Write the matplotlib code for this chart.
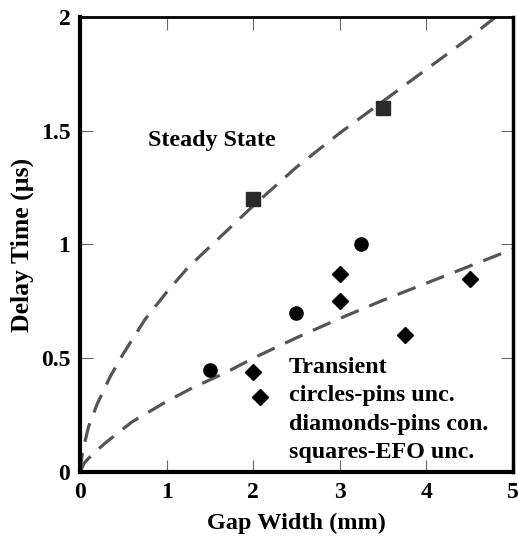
import matplotlib.pyplot as plt
import numpy as np

plt.rcParams['font.family'] = ['Liberation Serif', 'DejaVu Serif']
plt.rcParams['font.weight'] = 'bold'

# data
sq_x = [2.0, 3.5]
sq_y = [1.2, 1.6]

circ_x = [1.5, 2.5, 3.25]
circ_y = [0.45, 0.70, 1.0]

diam_x = [2.0, 2.08, 3.0, 3.0, 3.75, 4.5]
diam_y = [0.44, 0.33, 0.87, 0.75, 0.60, 0.85]

# dashed fit curves (traced)
steady_x = [0.0, 0.03, 0.1, 0.2, 0.35, 0.5, 0.75, 1.0, 1.25, 1.5, 1.75, 2.0,
            2.5, 3.0, 3.5, 4.0, 4.5, 4.8]
steady_y = [0.0, 0.09, 0.2, 0.3, 0.42, 0.52, 0.67, 0.79, 0.9, 0.99, 1.08, 1.17,
            1.34, 1.49, 1.63, 1.77, 1.91, 2.0]

trans_x = [0.0, 0.05, 0.15, 0.3, 0.6, 1.0, 1.3, 1.7, 2.0, 2.5, 3.0, 3.5, 4.0, 4.5, 5.0]
trans_y = [0.0, 0.04, 0.08, 0.13, 0.22, 0.31, 0.37, 0.44, 0.5, 0.59, 0.675, 0.755,
           0.83, 0.905, 0.98]

fig = plt.figure(figsize=(5.18, 5.42), dpi=100)
ax = fig.add_axes([0.1544, 0.1292, 0.8359, 0.8394])

curve_col = '#555555'
ax.plot(steady_x, steady_y, color=curve_col, lw=2.3, dashes=(6, 3.6))
ax.plot(trans_x, trans_y, color=curve_col, lw=2.3, dashes=(6, 3.6))

ax.plot(sq_x, sq_y, 's', color='#2a2a2a', ms=9.5, zorder=3)
ax.plot(circ_x, circ_y, 'o', color='black', ms=9.5, zorder=3)
ax.plot(diam_x, diam_y, 'D', color='black', ms=8.5, zorder=3)

fs_note = 17.3
ax.text(0.79, 1.457, 'Steady State', fontsize=fs_note, fontweight='bold', va='center', ha='left')
ax.text(2.41, 0.46, 'Transient', fontsize=fs_note, fontweight='bold', va='center', ha='left')
ax.text(2.41, 0.335, 'circles-pins unc.', fontsize=fs_note, fontweight='bold', va='center', ha='left')
ax.text(2.41, 0.208, 'diamonds-pins con.', fontsize=fs_note, fontweight='bold', va='center', ha='left')
ax.text(2.41, 0.085, 'squares-EFO unc.', fontsize=fs_note, fontweight='bold', va='center', ha='left')

ax.set_xlim(0, 5)
ax.set_ylim(0, 2)
ax.set_xticks([0, 1, 2, 3, 4, 5])
ax.set_yticks([0, 0.5, 1, 1.5, 2])
ax.set_yticklabels(['0', '0.5', '1', '1.5', '2'])

ax.tick_params(direction='in', length=9, width=0.8, color='#666666',
               top=True, right=True, labelsize=17, pad=7)
for lab in ax.get_xticklabels() + ax.get_yticklabels():
    lab.set_fontweight('bold')

ax.spines['left'].set_linewidth(3)
ax.spines['bottom'].set_linewidth(3)
ax.spines['top'].set_linewidth(2)
ax.spines['right'].set_linewidth(2.5)

ax.set_xlabel('Gap Width (mm)', fontsize=17.5, fontweight='bold', labelpad=7)
ax.set_ylabel('Delay Time (µs)', fontsize=18.5, fontweight='bold', labelpad=5)

plt.savefig('out.png', dpi=100)
